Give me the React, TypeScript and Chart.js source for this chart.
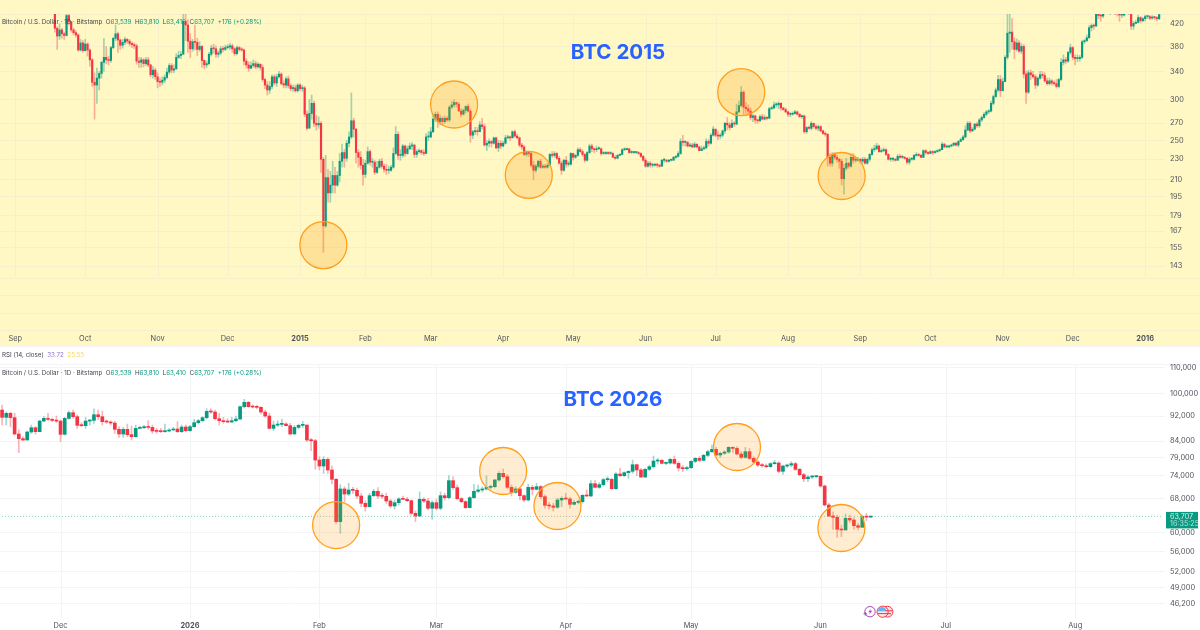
import React, { useEffect, useRef } from "react";
import { Chart, registerables } from "chart.js";

Chart.register(...registerables);

// ---------- BTC 2015 panel (Bitstamp, daily) ----------
const topBarCount = 499;
const topLeadingBars = 23;
const topFirstOpen = 460;
const topMonths: [string, number][] = [["Sep", 6], ["Oct", 36], ["Nov", 67], ["Dec", 97], ["2015", 128], ["Feb", 156], ["Mar", 184], ["Apr", 215], ["May", 245], ["Jun", 276], ["Jul", 306], ["Aug", 337], ["Sep", 368], ["Oct", 398], ["Nov", 429], ["Dec", 459], ["2016", 490]];
const topTicks = [420, 380, 340, 300, 270, 250, 230, 210, 195, 179, 167, 155, 143];
const topBandLines = [439, 135.8, 125.7, 116.3, 107.6];
const topClose = [
  412,398,409,402,399,436,424,409,404,400,374,386,373,
  384,374,358,324,320,330,337,354,362,358,357,378,394,402,391,382,387,392,389,385,383,381,356,354,358,352,358,350,335,342,332,
  325,324,327,331,339,349,342,344,362,365,367,425,418,389,376,388,387,375,380,357,350,352,367,377,376,367,369,376,375,378,
  379,381,376,368,378,375,374,356,350,345,349,352,347,351,346,328,320,313,318,332,323,332,336,322,320,329,319,315,316,312,320,
  315,316,281,264,282,295,270,268,270,230,171,212,198,205,214,205,214,228,237,231,247,254,273,263,237,232,224,215,
  226,238,227,227,217,222,228,223,220,219,219,222,236,257,234,234,244,236,241,244,245,235,238,239,237,236,254,254,
  260,275,281,272,276,272,276,274,290,293,296,294,285,281,286,291,285,256,260,261,260,268,266,245,247,249,247,253,242,247,244,
  247,253,254,253,260,255,253,245,243,235,237,236,224,219,223,228,222,223,222,224,235,234,236,231,226,219,229,225,225,236,
  232,234,240,238,235,229,237,244,241,240,241,241,236,236,237,236,236,232,231,234,235,240,240,241,237,237,237,237,236,233,229,
  223,226,224,224,225,224,223,229,229,228,229,229,232,233,236,249,248,248,244,245,243,246,243,239,241,242,249,247,256,263,
  256,255,256,261,270,268,265,270,269,284,292,310,290,288,285,277,279,274,273,278,275,277,276,288,289,293,293,295,289,287,284,
  281,281,282,284,281,278,279,260,265,264,270,266,264,266,261,258,257,232,226,235,232,230,228,211,221,226,223,232,229,229,230,
  228,230,226,230,235,240,241,244,238,239,240,235,230,230,230,229,233,232,232,231,227,230,230,234,235,234,232,239,237,236,
  238,237,238,239,240,246,243,243,244,245,247,245,249,251,254,262,270,261,263,269,267,274,277,281,284,285,295,304,313,328,312,
  325,362,403,405,388,375,386,372,380,336,310,338,335,332,320,330,335,334,326,322,326,323,322,318,328,354,358,356,370,378,
  362,360,360,362,388,390,395,413,417,416,450,436,435,445,465,455,455,463,462,442,437,437,442,455,455,416,421,423,432,426,430,
  434,434,431,433,432,430,438,
];
const topHigh = [
  460,415,420,412,405,442,440,425,412,408,402,392,390,
  392,386,376,360,338,345,340,356,394,380,364,380,396,418,405,393,392,396,394,392,388,386,384,362,362,360,362,362,351,348,345,
  338,330,332,335,345,352,352,350,368,372,372,450,445,428,402,392,418,394,388,382,358,356,370,382,384,381,372,380,380,382,
  383,385,384,378,381,380,378,376,360,355,355,358,356,354,352,350,330,325,325,335,335,336,340,338,326,332,333,322,320,320,322,
  322,320,318,285,300,306,298,280,278,272,232,234,220,218,228,222,218,236,246,240,250,260,309,276,264,240,238,230,
  229,243,240,231,229,228,230,231,225,225,223,224,242,266,260,240,246,245,244,247,248,246,240,241,240,240,258,260,
  265,280,284,284,280,278,279,278,292,298,300,297,296,288,288,292,294,287,262,265,265,272,276,269,250,252,250,254,254,250,250,
  249,256,256,255,261,262,257,254,247,245,239,238,238,228,225,229,230,225,225,226,236,238,238,237,233,228,230,233,228,237,
  236,235,242,242,240,236,238,246,246,242,244,243,242,238,238,238,238,237,234,235,236,241,242,242,241,239,238,238,238,237,234,
  231,228,228,226,226,226,225,230,231,230,230,230,233,234,238,252,256,250,249,247,247,248,246,244,244,244,252,251,258,266,
  263,261,258,262,271,277,271,274,272,294,298,318,312,296,293,289,281,280,275,280,281,280,278,290,291,297,296,297,296,290,289,
  285,283,284,286,285,282,280,280,266,267,272,270,268,268,267,262,260,258,236,237,237,234,231,230,225,231,227,234,236,231,232,
  231,232,232,231,236,242,245,247,245,241,242,241,236,232,232,231,235,235,234,233,232,232,232,235,237,236,235,240,240,238,
  239,239,239,240,241,248,247,245,245,246,248,248,250,253,256,267,272,272,265,270,271,276,279,283,286,287,298,306,316,334,334,
  330,365,440,490,430,395,393,390,385,383,340,342,342,340,335,332,340,340,338,330,330,328,326,328,330,360,366,362,372,384,
  380,366,366,365,390,392,400,417,420,420,452,448,445,450,470,466,460,465,470,462,445,440,445,456,459,456,425,427,437,434,432,
  437,436,436,436,434,434,445,
];
const topLow = [
  405,375,392,394,392,398,418,405,400,396,372,372,370,
  372,364,348,318,275,295,313,330,340,352,350,354,376,390,370,375,377,383,385,381,378,376,351,346,346,347,349,347,332,330,328,
  316,318,320,323,329,336,338,338,343,360,360,367,390,370,362,372,374,365,372,346,344,346,350,364,369,362,362,366,371,373,
  376,375,370,365,366,372,372,350,345,340,344,346,344,345,342,325,315,306,308,315,320,318,330,320,316,316,316,312,311,310,310,
  312,311,278,262,265,275,266,262,264,217,152,170,190,190,198,198,204,208,222,222,228,243,252,254,226,222,220,205,
  212,225,224,222,215,216,221,221,217,215,216,218,221,235,230,229,232,233,235,240,240,232,232,236,235,234,236,250,
  253,259,272,265,268,268,270,272,272,288,290,290,285,278,280,283,284,248,252,257,256,260,263,244,239,243,243,246,241,238,241,
  243,246,252,250,253,254,252,243,240,234,233,233,222,210,217,221,221,221,221,221,224,232,232,230,225,215,218,222,223,224,
  229,231,233,237,233,227,228,236,238,237,238,240,234,235,235,235,235,232,230,231,234,235,239,240,236,236,236,236,235,232,228,
  222,222,222,222,223,222,222,223,227,227,227,228,229,231,232,235,244,244,243,243,242,242,242,239,239,240,241,244,246,255,
  254,251,252,254,258,262,262,265,266,268,283,290,281,282,281,274,272,270,270,272,274,274,274,276,287,288,290,288,286,286,283,
  278,278,280,281,280,277,276,258,258,263,262,264,262,261,260,257,255,223,223,223,230,227,221,205,197,219,221,222,226,227,228,
  226,226,225,225,228,234,238,240,237,237,238,234,229,228,228,228,229,231,231,230,225,225,229,229,233,233,232,232,235,235,
  236,235,236,237,238,240,242,242,242,243,244,244,243,249,250,253,261,259,260,262,265,265,272,276,279,282,284,293,303,310,304,
  312,325,359,370,375,360,372,370,368,330,295,308,328,330,315,318,328,330,324,320,320,320,320,316,316,326,350,352,354,367,
  358,350,355,356,360,385,388,394,407,410,416,430,425,432,443,445,449,452,455,435,425,432,435,440,452,410,410,420,422,422,424,
  425,430,428,429,428,426,428,
];
const topCircleBars = [138, 194, 226, 317, 360];
const topCirclePrices = [157, 293.5, 214.5, 310, 213.5];

// ---------- BTC 2026 panel ----------
const lowBarCount = 279;
const lowFirstOpen = 94110;
const lowMonths: [string, number][] = [["Dec", 14], ["2026", 45], ["Feb", 76], ["Mar", 104], ["Apr", 135], ["May", 165], ["Jun", 196], ["Jul", 226], ["Aug", 257]];
const lowTicks = [110000, 100000, 92000, 84000, 79000, 74000, 68000, 60000, 56000, 52000, 49000, 46200];
const lowClose = [
  91620,92970,91500,86190,84730,84310,86820,88200,86930,90380,
  91280,90950,90610,90380,86080,91280,93200,91840,88970,88860,
  90380,90610,92510,91840,90170,90060,89730,87670,86190,87670,
  85980,85350,87990,88200,88420,88310,87140,87030,86930,87140,
  87460,87780,86930,88420,87250,88530,89840,90500,91500,93650,
  93430,91170,90500,90170,90060,90500,91060,95270,96800,95270,
  95150,95040,93430,92070,87990,89070,89290,89400,88860,86190,
  88310,88970,89070,84310,84100,78340,76640,78530,75530,72990,
  62490,70450,69160,70190,70100,68660,66840,66030,68740,69850,
  68660,68570,67410,66190,67000,67910,67830,67490,64430,63810,
  67830,67410,65630,67000,65630,68740,68240,72630,70790,67990,
  67250,65790,68240,69850,70190,70450,70880,71050,72810,74610,
  73700,70880,69590,70450,68740,67660,70880,70360,71050,68490,
  66350,66190,65870,67660,68070,67910,66600,67080,67250,68830,
  68660,71830,70880,71570,72900,72990,70530,74430,73970,74790,
  75160,77010,75530,73610,75710,76450,78050,78240,77390,77480,
  78530,77390,76080,75900,76170,77960,78820,78240,79700,80780,
  81470,79800,80290,80680,82070,81770,80090,79110,80780,78820,
  77770,76920,76730,76450,77300,77480,75160,76640,76920,77300,
  75710,74250,73160,73610,73700,73790,71220,66430,63810,63490,
  60760,60610,63260,62870,61580,61210,63650,63539,63707,
];
const lowHigh = [
  95860,93540,93320,92970,87460,85350,87140,89070,88530,90720,
  91840,92970,91390,92070,90720,91620,93870,94110,92400,89840,
  91620,90950,94550,94110,93760,90720,90500,90280,88530,88310,
  89400,88750,89070,88750,88970,90500,89070,87990,87990,89400,
  87880,88310,90170,89070,89070,88970,90950,90950,91840,94550,
  94550,94110,92970,91620,91170,91620,92070,95510,97870,97170,
  95860,95740,95270,94110,92970,90280,90500,91060,89840,89620,
  88970,89400,90280,89070,84840,84520,79310,79310,79020,76640,
  73250,71570,71050,71920,70880,70710,69330,67490,69330,70360,
  70790,69330,69330,67830,67660,68240,68660,68330,67660,64980,
  69680,68240,68070,67490,67830,69680,69330,73970,73700,71480,
  68240,67490,68490,71660,71480,71050,73970,71480,72990,75070,
  75800,74340,71480,71050,70620,68950,71660,71390,71920,71390,
  68950,67000,66840,68070,68490,69330,68330,67490,67660,69000,
  70190,72630,72630,72100,73250,73700,73250,74790,76000,75070,
  75340,78340,77200,76000,76000,76920,79500,78820,78530,77770,
  78820,79500,77870,76820,76540,78150,79020,79310,79990,81270,
  82770,82070,80680,81070,82270,82270,82270,80780,82070,81770,
  79310,78150,77390,77200,77580,78240,77870,76920,77200,77870,
  77680,76000,74610,73970,74070,74070,73880,71480,66840,64800,
  64030,61730,64270,64030,63420,62110,64030,64430,63810,
];
const lowLow = [
  89070,89070,88530,85880,80490,84100,84310,86400,86190,86930,
  90170,90500,90170,89840,83790,85880,90950,91280,87990,88530,
  87990,89070,89620,90950,89070,89620,89070,86400,85140,85140,
  85350,84310,85140,87880,87880,87670,86400,86400,86610,86720,
  86930,87460,86610,86610,86930,87030,88310,89400,90060,91060,
  92970,90720,89070,89620,89840,89950,90170,90720,94800,95040,
  94800,94550,92740,91620,87780,87250,88530,88530,88750,85880,
  86190,87780,88310,83790,81070,75730,75530,74610,74610,71740,
  62110,59880,67250,68740,69330,68070,66030,64980,65870,68490,
  68070,68070,66840,65790,65460,66430,67660,67250,64030,62490,
  63650,67000,65220,63030,65220,65220,67660,67910,70360,67660,
  67000,65550,65710,68070,69500,69680,70190,70360,70710,72450,
  73250,70450,68660,69330,67660,67250,67410,68950,70190,68070,
  65630,65460,64980,65630,66030,67660,65630,66430,66680,66840,
  68490,68490,70710,70620,71220,72360,70360,70360,73700,73700,
  73250,74610,73970,73430,73430,75340,76000,77200,77200,77010,
  77200,77110,75250,75070,75430,76000,77580,77870,78150,79310,
  80490,79500,79110,79990,80290,80580,79800,78730,78820,78530,
  77390,76450,76270,76170,76270,77110,74790,74340,76170,76450,
  75340,73970,72360,72360,73160,73340,70880,66190,63650,60760,
  59000,59150,60610,62340,60760,60610,61210,62720,63410,
];
const lowCircleBars = [80, 120, 133, 176, 201];
const lowCirclePrices = [61720, 75250, 66190, 82170, 61050];
const lastPrice = 63707;

const UP = "#089981";
const DOWN = "#F23645";
const FONT = "Inter, 'Noto Sans', sans-serif";
const TXT = "#50535e";

function makeLabels(n: number, months: [string, number][]) {
  const l: string[] = new Array(n).fill("");
  months.forEach(([m, i]) => (l[i] = m));
  return l;
}

function buildDatasets(n: number, lead: number, firstOpen: number, close: number[], high: number[], low: number[], cBars: number[], cPrices: number[], bodyW: number, circleFill: string) {
  const opens = close.map((_, i) => (i === 0 ? firstOpen : close[i - 1]));
  const pad = (a: any[]) => [...new Array(lead).fill(null), ...a, ...new Array(Math.max(0, n - lead - a.length)).fill(null)];
  const up = opens.map((o, i) => close[i] >= o);
  const bodyC = pad(up.map((u) => (u ? UP : DOWN)));
  const wickC = pad(up.map((u) => (u ? "rgba(8,153,129,0.38)" : "rgba(242,54,69,0.38)")));
  const circles: (number | null)[] = new Array(n).fill(null);
  cBars.forEach((b, i) => (circles[b] = cPrices[i]));
  return [
    { type: "line", data: circles, showLine: false, pointRadius: 23.5, pointHoverRadius: 23.5, pointBackgroundColor: circleFill, pointBorderColor: "#FF9F1C", pointBorderWidth: 1.3, clip: false, order: 0 },
    { type: "bar", data: pad(close.map((c, i) => [Math.min(opens[i], c), Math.max(opens[i], c)])), backgroundColor: bodyC, barThickness: bodyW, minBarLength: 1, grouped: false, order: 1 },
    { type: "bar", data: pad(low.map((l, i) => [l, high[i]])), backgroundColor: wickC, barThickness: 1, grouped: false, order: 2 },
  ];
}

function vGridPlugin(months: [string, number][], bottom: number, color: string) {
  return {
    id: "vgrid",
    beforeDatasetsDraw(c: any) {
      const { ctx, chartArea, scales } = c;
      ctx.save();
      ctx.strokeStyle = color;
      ctx.lineWidth = 1;
      months.forEach(([, i]) => {
        const x = Math.round(scales.x.getPixelForValue(i)) + 0.5;
        ctx.beginPath();
        ctx.moveTo(x, chartArea.top);
        ctx.lineTo(x, bottom);
        ctx.stroke();
      });
      ctx.restore();
    },
  };
}

type Seg = [string, string];
function drawSegs(ctx: any, segs: Seg[], x: number, y: number, font: string) {
  ctx.font = font;
  ctx.textBaseline = "middle";
  ctx.textAlign = "left";
  segs.forEach(([t, col]) => {
    ctx.fillStyle = col;
    ctx.fillText(t, x, y);
    x += ctx.measureText(t).width;
  });
}
const headerSegs: Seg[] = [
  ["Bitcoin / U.S. Dollar · 1D · Bitstamp  ", "#434651"],
  ["O", "#434651"], ["63,539 ", UP], [" H", "#434651"], ["63,810 ", UP], [" L", "#434651"], ["63,410 ", UP], [" C", "#434651"], ["63,707 ", UP], [" +176 (+0.28%)", UP],
];
const HEADER_FONT = `6.25px ${FONT}`;

const topOverlay = {
  id: "topOverlay",
  beforeDraw(c: any) {
    c.ctx.save();
    c.ctx.fillStyle = "#FFF8C4";
    c.ctx.fillRect(0, 0, c.width, c.height);
    c.ctx.restore();
  },
  beforeDatasetsDraw(c: any) {
    const { ctx, scales } = c;
    ctx.save();
    ctx.strokeStyle = "#F5EFCB";
    topBandLines.forEach((v) => {
      const y = Math.round(scales.y.getPixelForValue(v)) + 0.5;
      ctx.beginPath();
      ctx.moveTo(0, y);
      ctx.lineTo(1200, y);
      ctx.stroke();
    });
    ctx.restore();
  },
  afterDraw(c: any) {
    const { ctx } = c;
    ctx.save();
    drawSegs(ctx, headerSegs, 2, 22, HEADER_FONT);
    ctx.font = `bold 20.6px ${FONT}`;
    ctx.fillStyle = "#2962FF";
    ctx.textAlign = "center";
    ctx.textBaseline = "middle";
    ctx.fillText("BTC 2015", 618, 52.5);
    ctx.restore();
  },
};

const lowOverlay = {
  id: "lowOverlay",
  beforeDraw(c: any) {
    const { ctx } = c;
    ctx.save();
    ctx.fillStyle = "#fff";
    ctx.fillRect(0, 0, c.width, c.height);
    ctx.fillStyle = "#F3F4F8";
    ctx.fillRect(0, 0, c.width, 2);
    ctx.fillRect(0, 19, c.width, 1);
    ctx.restore();
  },
  afterDraw(c: any) {
    const { ctx, scales } = c;
    ctx.save();
    drawSegs(ctx, [["RSI (14, close)  ", "#434651"], ["33.72  ", "#9575CD"], ["25.55", "#FFD54F"]], 2, 10.5, HEADER_FONT);
    drawSegs(ctx, headerSegs, 2, 28, HEADER_FONT);
    ctx.font = `bold 20.6px ${FONT}`;
    ctx.fillStyle = "#2962FF";
    ctx.textAlign = "center";
    ctx.textBaseline = "middle";
    ctx.fillText("BTC 2026", 613, 54.5);
    // last price tag
    const py = scales.y.getPixelForValue(lastPrice);
    ctx.fillStyle = UP;
    ctx.fillRect(1166, py - 4.5, 32, 16.5);
    ctx.font = `7.2px ${FONT}`;
    ctx.textAlign = "left";
    ctx.fillStyle = "rgba(255,255,255,0.85)";
    ctx.fillText("63,707", 1170, py);
    ctx.fillStyle = "rgba(255,255,255,0.7)";
    ctx.fillText("16:35:25", 1170, py + 7.5);
    // event icons
    const iy = 266.7;
    ctx.lineWidth = 1;
    ctx.strokeStyle = "#AB47BC";
    ctx.beginPath();
    ctx.arc(870, iy, 5.2, 0, Math.PI * 2);
    ctx.stroke();
    ctx.fillStyle = "#AB47BC";
    ctx.beginPath();
    ctx.moveTo(871.2, iy - 3.4);
    ctx.lineTo(868.3, iy + 0.6);
    ctx.lineTo(870.2, iy + 0.6);
    ctx.lineTo(869, iy + 3.4);
    ctx.lineTo(872.2, iy - 0.9);
    ctx.lineTo(870.2, iy - 0.9);
    ctx.closePath();
    ctx.fill();
    ctx.fillStyle = "#7E57C2";
    ctx.fillRect(863.5, iy + 1.6, 3.6, 1);
    ctx.fillRect(864.8, iy + 0.3, 1, 3.6);
    ctx.fillStyle = "#FFE3E6";
    ctx.strokeStyle = "#F23645";
    ctx.beginPath();
    ctx.arc(887.5, iy, 5.4, 0, Math.PI * 2);
    ctx.fill();
    ctx.stroke();
    ctx.beginPath();
    ctx.arc(882.6, iy, 5.6, 0, Math.PI * 2);
    ctx.fill();
    ctx.stroke();
    ctx.fillStyle = "#64B5F6";
    ctx.beginPath();
    ctx.arc(882, iy - 0.4, 4.3, Math.PI, Math.PI * 2);
    ctx.fill();
    ctx.fillStyle = "#F23645";
    ctx.fillRect(885.5, iy - 1.4, 6.5, 1);
    ctx.fillRect(878, iy + 1.4, 13, 1);
    ctx.restore();
  },
};

const noPad = (s: any) => {
  s.paddingLeft = 0;
  s.paddingRight = 0;
  s.paddingTop = 0;
  s.paddingBottom = 0;
};

function baseOptions(opts: { top: number; xH: number; max: number; min: number; ticks: number[]; fmt: (v: number) => string; grid: string; months: [string, number][]; xPad: number }) {
  return {
    responsive: false,
    animation: false,
    events: [],
    layout: { autoPadding: false, padding: { top: opts.top, left: 0, right: 0, bottom: 0 } },
    plugins: { legend: { display: false }, tooltip: { enabled: false }, title: { display: false } },
    scales: {
      x: {
        type: "category",
        offset: true,
        grid: { display: false, drawTicks: false },
        border: { display: false },
        afterFit: (s: any) => { s.height = opts.xH; noPad(s); },
        ticks: {
          autoSkip: false, maxRotation: 0, minRotation: 0, padding: opts.xPad, color: TXT,
          font: (ctx: any) => ({ family: FONT, size: 7.4, weight: /^\d/.test(ctx.tick?.label ?? "") ? "bold" : "normal" }),
        },
      },
      y: {
        type: "logarithmic",
        position: "right",
        min: opts.min,
        max: opts.max,
        afterFit: (s: any) => { s.width = 35; noPad(s); },
        afterBuildTicks: (s: any) => { s.ticks = opts.ticks.map((value) => ({ value })); },
        grid: { color: opts.grid, drawTicks: false, lineWidth: 1 },
        border: { display: false },
        ticks: { callback: (v: any) => opts.fmt(Number(v)), color: TXT, padding: 5, crossAlign: "near", font: { family: FONT, size: 7.4 } },
      },
    },
  };
}

export default function App() {
  const a = useRef<HTMLCanvasElement>(null);
  const b = useRef<HTMLCanvasElement>(null);
  useEffect(() => {
    const top = new Chart(a.current as any, {
      type: "bar",
      data: {
        labels: makeLabels(topBarCount, topMonths),
        datasets: buildDatasets(topBarCount, topLeadingBars, topFirstOpen, topClose, topHigh, topLow, topCircleBars, topCirclePrices, 1.5, "rgba(255,152,0,0.22)") as any,
      },
      options: baseOptions({ top: 14, xH: 15, max: 439, min: 107.6, ticks: topTicks, fmt: (v) => String(v), grid: "#F5EFCB", months: topMonths, xPad: 4 }) as any,
      plugins: [topOverlay, vGridPlugin(topMonths, 277, "#F5EFCB")],
    });
    const n = lowBarCount;
    const priceLine = { type: "line", data: new Array(n).fill(lastPrice), borderColor: "rgba(8,153,129,0.5)", borderWidth: 1, borderDash: [1, 2], pointRadius: 0, order: 3 };
    const low = new Chart(b.current as any, {
      type: "bar",
      data: {
        labels: makeLabels(n, lowMonths),
        datasets: [...buildDatasets(n, 0, lowFirstOpen, lowClose, lowHigh, lowLow, lowCircleBars, lowCirclePrices, 3, "rgba(255,152,0,0.18)"), priceLine] as any,
      },
      options: baseOptions({ top: 19, xH: 12, max: 111421, min: 43887, ticks: lowTicks, fmt: (v) => v.toLocaleString("en-US"), grid: "#F3F4F6", months: lowMonths, xPad: 3 }) as any,
      plugins: [lowOverlay, vGridPlugin(lowMonths, 273, "#F3F4F6")],
    });
    return () => {
      top.destroy();
      low.destroy();
    };
  }, []);
  return (
    <div style={{ position: "absolute", left: 0, top: 0, width: 1200, height: 630, overflow: "hidden", background: "#fff" }}>
      <canvas ref={a} width={1200} height={345} style={{ position: "absolute", left: 0, top: 0, width: 1200, height: 345 }} />
      <canvas ref={b} width={1200} height={285} style={{ position: "absolute", left: 0, top: 345, width: 1200, height: 285 }} />
    </div>
  );
}
